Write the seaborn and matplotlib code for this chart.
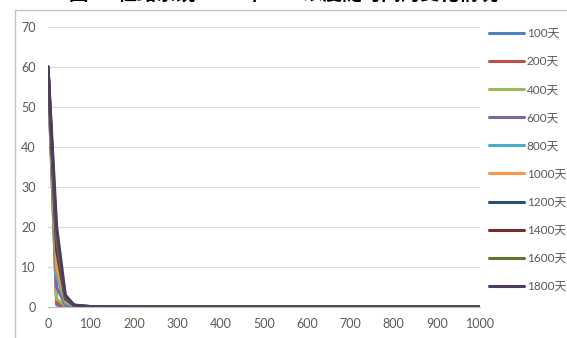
import numpy as np
import pandas as pd
import matplotlib
matplotlib.use("Agg")
import matplotlib.pyplot as plt
import seaborn as sns

# ----------------------------
# DATA
# ----------------------------

x_vals = [0, 20, 40, 60, 80, 100, 200, 300, 400, 500, 600, 700, 800, 900, 1000]

series_names = ["100天", "200天", "400天", "600天", "800天",
                "1000天", "1200天", "1400天", "1600天", "1800天"]

y_100 = [60, 0.5, 0, 0, 0, 0, 0, 0, 0, 0, 0, 0, 0, 0, 0]
y_200 = [60, 1.0, 0.2, 0, 0, 0, 0, 0, 0, 0, 0, 0, 0, 0, 0]
y_400 = [60, 2.0, 0.3, 0.1, 0, 0, 0, 0, 0, 0, 0, 0, 0, 0, 0]
y_600 = [60, 5.0, 0.5, 0.1, 0, 0, 0, 0, 0, 0, 0, 0, 0, 0, 0]
y_800 = [60, 8.0, 1.0, 0.3, 0.1, 0, 0, 0, 0, 0, 0, 0, 0, 0, 0]
y_1000 = [60, 10.0, 1.5, 0.3, 0.1, 0, 0, 0, 0, 0, 0, 0, 0, 0, 0]
y_1200 = [60, 14.0, 2.0, 0.4, 0.2, 0.1, 0, 0, 0, 0, 0, 0, 0, 0, 0]
y_1400 = [60, 15.0, 2.5, 0.4, 0.2, 0.1, 0, 0, 0, 0, 0, 0, 0, 0, 0]
y_1600 = [60, 17.0, 2.5, 0.5, 0.2, 0.1, 0, 0, 0, 0, 0, 0, 0, 0, 0]
y_1800 = [60, 20.0, 3.0, 0.5, 0.3, 0.1, 0, 0, 0, 0, 0, 0, 0, 0, 0]

all_y = [y_100, y_200, y_400, y_600, y_800,
         y_1000, y_1200, y_1400, y_1600, y_1800]

colors = ["#4F81BD", "#C0504D", "#9BBB59", "#8064A2", "#4BACC6",
          "#F79646", "#2C4D75", "#772C2A", "#5F7530", "#4D3B62"]

title_text = "图 3   柱路系统 MFC 中 MR 浓度随时间的变化情况"

# long format for seaborn
df = pd.concat(
    [pd.DataFrame({"x": x_vals, "y": ys, "series": name})
     for name, ys in zip(series_names, all_y)],
    ignore_index=True,
)

# ----------------------------
# PLOT
# ----------------------------

sns.set_style("white")
plt.rcParams["font.family"] = ["Lato", "Noto Sans CJK SC", "DejaVu Sans"]

fig = plt.figure(figsize=(5.67, 3.38), dpi=100)
ax = fig.add_axes([0.0847, 0.0917, 0.7619, 0.8284])

sns.lineplot(data=df, x="x", y="y", hue="series", hue_order=series_names,
             palette=colors, linewidth=2.2, ax=ax, legend=False,
             estimator=None, sort=False)

# chart area border (excel chart frame, cropped)
fx = 14.5 / 567
fy = 1 - 9.5 / 338
ax.plot([fx, fx, 1.0], [0.0, fy, fy], transform=fig.transFigure,
        clip_on=False, color="#C4C4C4", lw=1.0)

ax.set_xlim(0, 1000)
ax.set_ylim(0, 70)
ax.set_xticks(range(0, 1001, 100))
ax.set_xticks(range(0, 1001, 20), minor=True)
ax.set_yticks(range(0, 71, 10))
ax.set_xlabel("")
ax.set_ylabel("")

ax.grid(axis="y", color="#D9D9D9", linewidth=0.8)
ax.set_axisbelow(True)
for side in ["top", "right", "left"]:
    ax.spines[side].set_visible(False)
ax.spines["bottom"].set_color("#BFBFBF")
ax.spines["bottom"].set_linewidth(0.8)

ax.tick_params(axis="x", which="both", direction="out", colors="#BFBFBF",
               labelcolor="#595959", labelsize=9)
ax.tick_params(axis="x", which="major", length=5, width=0.8, pad=3)
ax.tick_params(axis="x", which="minor", length=5, width=0.8)
ax.tick_params(axis="y", length=0, labelcolor="#595959", labelsize=9, pad=9)

# legend
handles = [plt.Line2D([0], [0], color=c, linewidth=2.2) for c in colors]
fig.legend(handles, series_names, loc="upper left",
           bbox_to_anchor=(489 / 567, 1 - 28 / 338), frameon=False,
           fontsize=8.5, handlelength=3.0, handletextpad=0.2,
           labelspacing=1.45, borderaxespad=0, borderpad=0,
           labelcolor="#595959")

# clipped title at the top edge
fig.text(0.5, 1 + 6 / 338, title_text, ha="center", va="center",
         fontsize=14, fontweight="bold", color="black",
         family=["Noto Sans CJK SC", "DejaVu Sans"])

fig.savefig("out.png", dpi=100)
